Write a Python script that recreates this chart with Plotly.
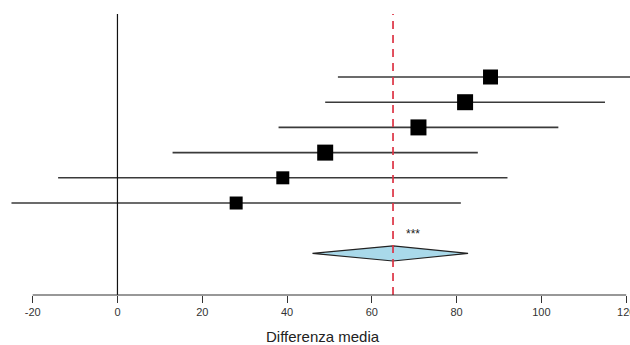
import plotly.graph_objects as go

# Study estimates (mean difference) with 95% CI, top to bottom
estimates = [88, 82, 71, 49, 39, 28]
lower = [52, 49, 38, 13, -14, -25]
upper = [124, 115, 104, 85, 92, 81]
weights = [15, 16, 16, 16, 13, 13]

# Pooled estimate (diamond)
pooled_est = 65
pooled_low = 46
pooled_high = 82.7
signif_label = "***"

tick_vals = [-20, 0, 20, 40, 60, 80, 100, 120]
x_title = "Differenza media"

n = len(estimates)
row_y = [n + 2 - i for i in range(n)]  # 8..3
pooled_y = 1

fig = go.Figure()

# CI lines
for y, lo, hi in zip(row_y, lower, upper):
    fig.add_trace(go.Scatter(x=[lo, hi], y=[y, y], mode="lines",
                             line=dict(color="#3a3a3a", width=1.6),
                             hoverinfo="skip", showlegend=False))

# squares
fig.add_trace(go.Scatter(x=estimates, y=row_y, mode="markers",
                         marker=dict(symbol="square", color="#000000", opacity=1,
                                     size=weights, line=dict(width=0)),
                         showlegend=False))

# diamond
dh = 0.3
fig.add_trace(go.Scatter(
    x=[pooled_low, pooled_est, pooled_high, pooled_est, pooled_low],
    y=[pooled_y, pooled_y + dh, pooled_y, pooled_y - dh, pooled_y],
    mode="lines", fill="toself", fillcolor="#a9d9ea",
    line=dict(color="#222222", width=1.2), showlegend=False))

# significance asterisks
fig.add_annotation(x=pooled_est + 4.7, y=pooled_y + 0.77, text=signif_label,
                   showarrow=False, font=dict(size=12, color="#222222",
                                              family="Liberation Sans"),
                   xanchor="center", yanchor="middle")

# zero line
fig.add_shape(type="line", xref="x", yref="paper", x0=0, x1=0, y0=0, y1=1,
              line=dict(color="#111111", width=1.2))
# pooled estimate dashed red line
fig.add_shape(type="line", xref="x", yref="paper", x0=pooled_est, x1=pooled_est,
              y0=0, y1=1, line=dict(color="#dd3344", width=1.7, dash="8px,6px"))
# axis line from first to last tick
fig.add_shape(type="line", xref="x", yref="paper", x0=tick_vals[0], x1=tick_vals[-1],
              y0=0, y1=0, line=dict(color="#333333", width=1.2))

# axis title
fig.add_annotation(x=48.6, xref="x", y=0, yref="paper", yshift=-41,
                   text=x_title, showarrow=False,
                   font=dict(size=15, color="#222222", family="Liberation Sans"),
                   xanchor="center", yanchor="middle")

fig.update_layout(
    width=630, height=345,
    margin=dict(l=3, r=0, t=14, b=50, autoexpand=False),
    plot_bgcolor="white", paper_bgcolor="white",
    xaxis=dict(range=[-27, 120.9], tickvals=tick_vals,
               ticktext=[str(v) for v in tick_vals], automargin=False,
               ticklabeloverflow="allow",
               showgrid=False, zeroline=False, showline=False,
               ticks="outside", ticklen=7, tickwidth=1.2, tickcolor="#333333",
               tickfont=dict(size=11, color="#333333", family="Liberation Sans")),
    yaxis=dict(range=[-0.65, 10.5], showticklabels=False, showgrid=False,
               zeroline=False, showline=False, ticks="", automargin=False),
    showlegend=False,
)

fig.write_html("out.html", config={"displayModeBar": False},
               post_script="document.body.style.margin='0';document.body.style.padding='0';document.body.style.overflow='hidden';")
